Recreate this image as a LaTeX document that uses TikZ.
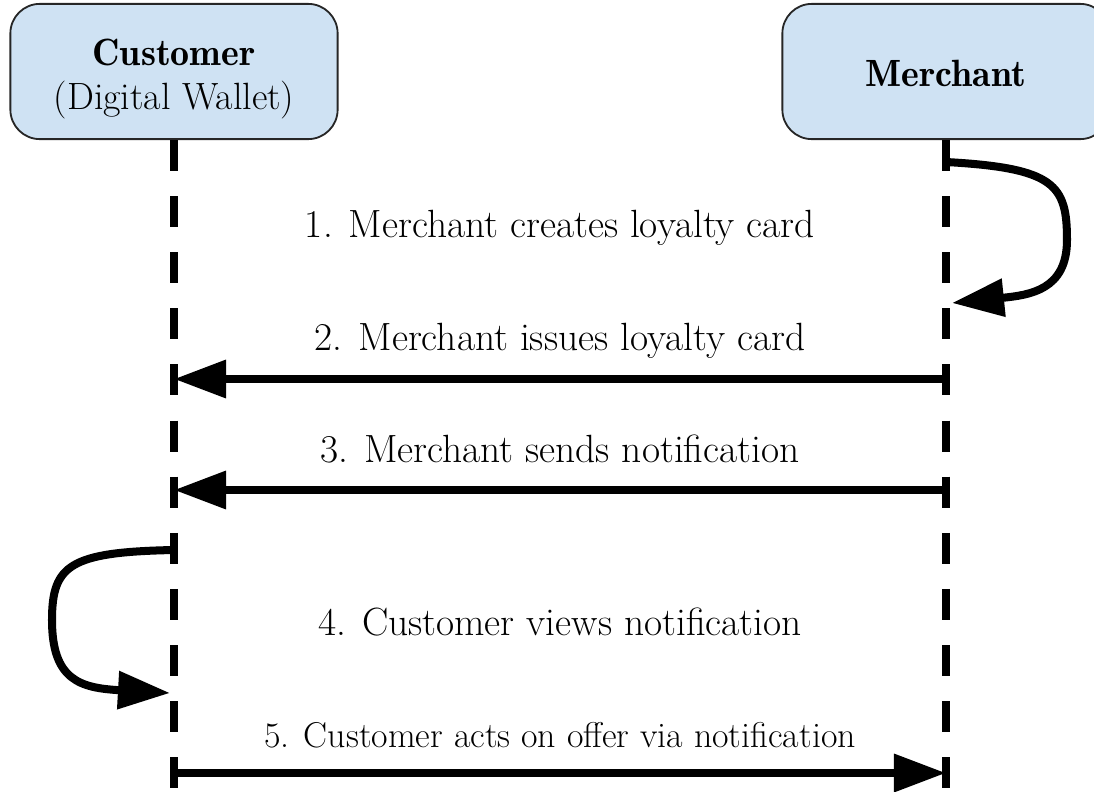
\documentclass[tikz,border=0pt]{standalone}
\usepackage{tikz}
\usepackage{fontspec}
\usetikzlibrary{arrows.meta,positioning}
\newfontfamily\demifont{lmromandemi10-regular.otf}
\definecolor{boxblue}{HTML}{CFE2F3}
\tikzset{
	actor/.style={draw=black!85, line width=1.3pt, fill=boxblue, rounded corners=21pt, align=center, inner sep=0pt, minimum width=8.18cm, minimum height=3.38cm, font=\fontsize{27}{31.5}\selectfont},
	lifeline/.style={line width=5.5pt, dash pattern=on 22pt off 17.9pt},
	msg/.style={line width=5.7pt, -{Triangle[length=37pt,width=26pt]}},
	msglabel/.style={anchor=base, font=\fontsize{28}{32}\selectfont},
}

\begin{document}
\begin{tikzpicture}[x=0.025cm, y=-0.025cm]
	\useasboundingbox (0,0) rectangle (1094,791);
	% the two actors
	\node[actor] (customer) at (174,71.5) {\rule{0pt}{29pt}{\demifont Customer}\\(Digital Wallet)};
	\node[actor] (merchant) at (946,71.5) {\rule{0pt}{22pt}\demifont Merchant};
	% lifelines
	\coordinate (cBot) at (174,788);
	\coordinate (mBot) at (946,788);
	\draw[lifeline] (customer.south) -- (cBot);
	\draw[lifeline] (merchant.south) -- (mBot);
	% messages
	\coordinate (m1a) at (946,162);
	\coordinate (m1b) at (952,303);
	\draw[msg] (m1a) .. controls (1055,168) and (1067,185) .. (1067,240) .. controls (1067,290) and (1030,295) .. (m1b);
	\node[msglabel] (l1) at (560,237) {1. Merchant creates loyalty card};
	\coordinate (m2a) at (946,379);
	\coordinate (m2b) at (174,379);
	\draw[msg] (m2a) -- (m2b);
	\node[msglabel] (l2) at (560,350) {2. Merchant issues loyalty card};
	\coordinate (m3a) at (946,490);
	\coordinate (m3b) at (174,490);
	\draw[msg] (m3a) -- (m3b);
	\node[msglabel] (l3) at (560,462) {3. Merchant sends notification};
	\coordinate (m4a) at (174,550);
	\coordinate (m4b) at (170,693);
	\draw[msg] (m4a) .. controls (70,552) and (52,565) .. (52,620) .. controls (52,680) and (80,688) .. (m4b);
	\node[msglabel] (l4) at (560,635) {4. Customer views notification};
	\coordinate (m5a) at (174,773);
	\coordinate (m5b) at (946,773);
	\draw[msg] (m5a) -- (m5b);
	\node[msglabel, font=\fontsize{25.5}{30}\selectfont] (l5) at (560,747) {5. Customer acts on offer via notification};
\end{tikzpicture}
\end{document}
